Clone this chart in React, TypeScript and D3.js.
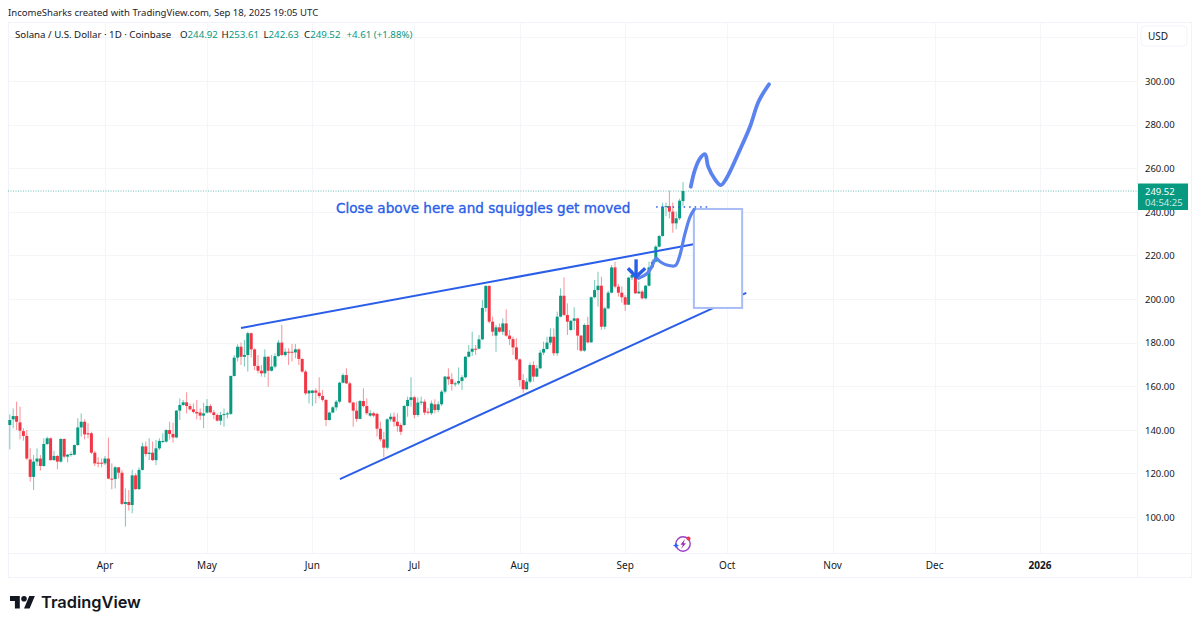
import React from "react";
import * as d3 from "d3";

type C = [number, number, number, number]; // open, high, low, close

const march: C[] = [
  [142.2,147.1,131.0,144.5],[144.8,149.8,140.7,146.3],[146.3,152.9,139.9,143.7],[143.4,150.6,135.6,139.6],
  [139.4,140.7,135.0,137.2],[137.2,139.9,126.1,126.8],[126.4,131.5,116.2,118.4],[118.4,128.4,112.4,125.4],
  [125.4,131.5,123.4,126.8],[126.8,128.4,121.3,123.4],[123.4,136.1,123.1,133.5],[133.5,136.9,133.0,136.1],
  [136.1,136.5,125.8,126.1],[126.1,130.4,125.8,128.0],[128.0,128.4,121.9,125.4],[125.4,136.1,124.9,135.8],
  [135.8,136.1,126.9,127.7],[127.7,128.9,125.1,128.6],[128.6,130.0,127.7,128.9],[128.6,133.2,128.3,133.0],
  [133.0,145.3,132.7,141.1],[141.1,147.5,136.9,143.7],[143.7,144.8,135.6,137.9],[138.4,143.0,136.1,137.9],
  [138.4,139.1,128.9,129.5],[129.5,130.4,123.4,124.6],[124.9,127.4,122.8,124.5],[124.9,126.9,122.8,124.5],
];
const april: C[] = [
  [124.6,128.0,123.8,126.8],[126.8,136.4,117.3,117.6],[117.6,124.6,112.7,117.4],[117.4,123.4,113.1,122.8],
  [122.8,122.9,117.7,120.3],[120.3,121.6,105.5,106.0],[106.0,113.1,95.6,106.9],[106.9,112.4,102.9,105.5],
  [105.5,121.6,101.7,119.1],[119.1,120.0,112.4,112.8],[112.8,122.8,112.4,121.6],[121.6,134.1,121.3,132.4],
  [132.4,134.6,127.7,128.9],[128.9,136.1,126.1,129.5],[129.5,134.6,125.7,126.1],[126.1,135.3,123.8,131.5],
  [131.5,136.1,130.7,134.9],[134.6,138.4,133.8,134.9],[134.6,140.2,134.1,139.9],[139.9,143.7,135.6,138.1],
  [138.1,143.3,134.1,136.5],[136.5,149.1,136.1,148.8],[148.8,154.4,144.5,151.4],[151.4,153.7,150.9,152.6],
  [152.6,157.2,147.5,150.9],[150.9,152.1,148.8,149.4],[149.4,152.1,147.5,148.2],[148.2,153.7,144.8,147.5],
  [147.9,149.8,144.5,146.5],[146.5,152.4,140.7,147.5],
];
const may: C[] = [
  [147.9,154.1,147.5,150.9],[150.9,151.8,147.5,148.0],[148.0,149.1,144.8,146.8],[146.8,147.5,143.7,144.2],
  [144.2,148.3,142.2,146.8],[146.8,149.8,141.4,147.2],[147.2,148.3,145.3,147.5],[147.3,164.9,146.8,164.7],
  [164.7,174.3,164.4,173.1],[173.1,179.2,171.3,178.1],[178.1,180.0,169.7,173.5],[173.5,181.2,169.0,174.3],
  [174.3,185.0,166.7,184.3],[184.3,184.6,173.2,176.9],[176.9,177.4,167.4,169.3],[169.3,174.3,165.9,167.1],
  [167.1,169.7,164.4,165.9],[165.9,176.9,164.1,173.5],[173.5,173.8,159.8,167.1],[167.1,174.3,166.7,169.0],
  [169.0,175.1,168.2,173.8],[173.8,181.2,173.5,180.0],[180.0,188.1,173.8,174.3],[174.3,177.4,173.5,175.8],
  [175.8,177.4,169.7,175.5],[175.8,179.4,171.3,175.4],[175.5,179.4,172.8,176.9],[176.9,177.4,169.7,172.5],
  [172.5,172.8,166.2,166.7],[166.7,167.4,156.0,156.7],[156.7,158.2,152.1,158.0],
];
const june: C[] = [
  [156.9,158.3,150.9,158.0],[158.0,159.0,152.1,157.0],[157.0,164.1,154.4,155.5],[155.5,158.3,152.9,153.7],
  [153.7,154.0,141.7,144.5],[144.5,148.3,144.2,147.9],[147.9,150.9,147.6,150.3],[150.3,153.7,148.8,152.9],
  [152.9,162.1,152.1,161.6],[161.6,165.9,161.3,165.1],[165.1,168.2,161.0,161.3],[161.3,162.1,152.1,152.5],
  [152.5,152.9,141.4,148.8],[148.8,152.9,143.7,145.0],[145.0,153.7,144.8,153.2],[153.2,159.0,150.3,150.9],
  [150.9,154.4,146.8,147.6],[146.5,149.1,146.0,147.6],[147.6,148.3,145.7,146.5],[147.3,147.9,136.9,140.5],
  [140.5,143.7,134.6,135.6],[135.6,139.1,127.4,131.8],[131.8,145.3,131.0,144.8],[144.8,147.6,143.7,146.0],
  [146.0,147.9,141.4,143.7],[143.7,147.6,139.1,141.7],[142.2,143.0,137.6,139.1],[142.2,151.4,141.7,150.9],
  [150.9,155.2,146.0,153.7],[153.7,164.1,150.6,154.9],
];
const july: C[] = [
  [154.9,155.5,145.3,146.8],[146.8,154.9,146.0,152.5],[152.6,155.2,151.4,152.9],[152.9,154.0,146.8,147.9],
  [148.3,150.0,147.0,147.9],[147.6,153.4,146.8,152.1],[151.7,154.0,147.5,149.1],[149.1,153.0,148.0,151.7],
  [151.7,158.3,151.0,157.5],[157.5,164.7,156.7,164.4],[164.4,168.2,160.6,163.2],[163.2,165.9,158.0,161.0],
  [161.0,162.1,159.8,161.3],[161.3,168.6,160.6,162.4],[162.4,165.1,158.3,164.1],[164.1,173.8,163.6,173.5],
  [173.5,178.9,173.2,175.8],[175.8,185.0,173.9,177.2],[177.2,178.9,174.3,176.9],[177.2,183.5,176.9,181.5],
  [181.5,199.5,181.2,195.9],[195.9,206.3,194.2,206.0],[206.0,206.3,188.8,189.6],[189.6,191.9,183.0,185.0],
  [183.2,188.1,175.8,187.0],[187.0,188.8,184.6,185.0],[185.0,191.1,183.5,188.8],[188.8,195.3,182.7,183.2],
  [183.2,185.8,178.9,181.6],[181.6,182.7,174.3,177.8],[177.8,182.0,171.7,172.3],
];
const august: C[] = [
  [172.3,172.8,159.8,162.8],[162.8,165.6,157.0,158.6],[158.6,163.6,158.3,162.1],[162.1,170.8,161.3,169.7],
  [169.7,171.3,162.1,164.4],[164.4,169.7,164.1,168.2],[168.2,176.6,167.9,175.4],[175.4,180.4,174.3,177.1],
  [177.1,182.7,176.6,180.0],[180.0,186.5,178.9,182.7],[182.7,186.5,173.9,175.1],[175.1,194.2,173.9,191.9],
  [191.9,204.9,191.6,201.5],[201.5,209.9,192.2,192.7],[192.7,198.0,183.5,189.6],[185.8,190.4,185.5,190.0],
  [190.0,196.2,185.8,191.1],[191.1,191.4,176.6,183.2],[183.2,183.5,175.8,176.3],[176.3,188.8,175.8,188.1],
  [188.1,191.9,179.7,180.1],[180.1,201.1,180.0,200.8],[200.8,208.7,200.3,204.1],[204.1,212.5,196.5,206.1],
  [206.1,210.2,185.8,187.3],[187.3,196.5,186.1,195.7],[195.7,203.8,195.3,202.9],[202.9,215.6,202.6,214.5],
  [214.5,217.1,204.9,205.7],[205.7,206.9,201.1,202.9],[202.9,205.7,198.3,200.8],
];
const september: C[] = [
  [200.8,201.8,194.6,197.4],[197.4,210.2,197.2,209.8],[209.8,213.3,208.7,211.0],[211.0,211.8,202.3,202.6],
  [202.6,208.0,202.3,203.4],[203.4,204.1,199.8,200.3],[200.3,206.4,199.8,206.1],[206.1,217.1,205.7,214.5],
  [214.5,218.2,214.1,217.1],[217.1,224.8,216.8,224.0],[224.0,229.4,223.7,228.9],[228.9,244.2,228.6,242.3],
  [242.3,244.2,238.0,242.6],[242.6,249.7,237.0,240.1],[240.1,244.3,230.4,234.7],[234.7,240.1,232.0,237.0],
  [237.0,246.0,236.2,245.1],[244.92,253.61,242.63,249.52],
];
const firstDay = "2025-03-04";

const priceTicks = [100, 120, 140, 160, 180, 200, 220, 240, 260, 280, 300];
const gridPrices = [...priceTicks, 320];
const timeTicks = [
  ["Apr", "2025-04-01"], ["May", "2025-05-01"], ["Jun", "2025-06-01"], ["Jul", "2025-07-01"], ["Aug", "2025-08-01"],
  ["Sep", "2025-09-01"], ["Oct", "2025-10-01"], ["Nov", "2025-11-01"], ["Dec", "2025-12-01"], ["2026", "2026-01-01"],
];
const lastClose = 249.52;

// drawings: [days after Apr 1, price]
const wedgeUpper: [number, number][] = [[40.0, 186.7], [173.5, 225.2]];
const wedgeLower: [number, number][] = [[69.1, 117.4], [188.6, 202.8]];
const dottedLevel: [number, number][] = [[162.1, 242.2], [177.3, 242.2]];
const boxCorners: [number, number][] = [[173.2, 241.3], [187.4, 195.9]];
const squiggleLow: [number, number][] = [
  [156.9, 209.5], [159.5, 211.8], [160.8, 214.8], [162.1, 218.7], [163.3, 217.1], [165.2, 215.6],
  [167.7, 215.3], [168.9, 219.1], [170.6, 230.1], [172.1, 237.8], [173.3, 241.1],
];
const squiggleHigh: [number, number][] = [
  [172.3, 251.5], [173.5, 259.2], [175.0, 264.5], [176.5, 266.4], [177.4, 260.7], [179.4, 254.9],
  [181.1, 252.2], [182.8, 255.4], [186.7, 268.3], [189.7, 279.0], [192.2, 290.5], [195.3, 298.5],
];
const arrowStem: [number, number][] = [[156.2, 218.2], [156.2, 210.2]];
const arrowHead: [number, number][] = [[153.8, 214.1], [156.2, 210.2], [158.9, 214.1]];

const GREEN = "#089981";
const RED = "#f23645";
const BLUE = "#2a5ee8";
const SQUIGGLE = "#5b83f0";
const UI_FONT = "'Noto Sans', sans-serif";

const L = 8, R = 1137, T = 22, B = 553, OUTER_R = 1191, OUTER_B = 577;

const candles = [...march, ...april, ...may, ...june, ...july, ...august, ...september];
const apr1 = new Date("2025-04-01T00:00:00Z");
const jan1 = new Date("2026-01-01T00:00:00Z");
const x = d3.scaleUtc().domain([apr1, jan1]).range([105, 1040]);
const y = d3.scaleLinear().domain([100, 300]).range([517, 81]);
const dateOf = (i: number) => d3.utcDay.offset(new Date(firstDay + "T00:00:00Z"), i);
const xd = (days: number) => x(new Date(apr1.getTime() + days * 864e5));
const pathOf = d3.line<[number, number]>().x((p) => xd(p[0])).y((p) => y(p[1]));
const smooth = d3.line<[number, number]>().x((p) => xd(p[0])).y((p) => y(p[1])).curve(d3.curveCatmullRom.alpha(0.5));
const fmt = d3.format(".2f");

export default function App() {
  const rectX0 = xd(boxCorners[0][0]);
  const rectX1 = xd(boxCorners[1][0]);
  const rectY0 = y(boxCorners[0][1]);
  const rectY1 = y(boxCorners[1][1]);
  return (
    <svg width={1200} height={627} viewBox="0 0 1200 627" style={{ position: "fixed", left: 0, top: 0, background: "#fff" }}>
      <rect width={1200} height={627} fill="#fff" />
      <text x={8} y={16} fontFamily={UI_FONT} fontSize={9.55} fill="#1e222d">IncomeSharks created with TradingView.com, Sep 18, 2025 19:05 UTC</text>

      {/* frame */}
      <g stroke="#f0f3fa" fill="none" strokeWidth={1}>
        <rect x={L + 0.5} y={T + 0.5} width={OUTER_R - L} height={OUTER_B - T} />
        <line x1={R + 0.5} x2={R + 0.5} y1={T} y2={OUTER_B} />
        <line x1={L} x2={OUTER_R} y1={B + 0.5} y2={B + 0.5} />
      </g>
      {/* grid */}
      <g stroke="#f3f5f9" strokeWidth={1}>
        {gridPrices.map((p) => (
          <line key={p} x1={L} x2={R} y1={Math.round(y(p)) + 0.5} y2={Math.round(y(p)) + 0.5} />
        ))}
        {timeTicks.map(([l, d]) => {
          const px = Math.round(x(new Date(d + "T00:00:00Z"))) + 0.5;
          return <line key={l} x1={px} x2={px} y1={T} y2={B} />;
        })}
      </g>

      {/* legend */}
      <text x={15} y={38} fontFamily={UI_FONT} fontSize={9.7} fill="#131722" xmlSpace="preserve">
        <tspan>Solana / U.S. Dollar · 1D · Coinbase</tspan>
        <tspan x={180}>O</tspan><tspan fill={GREEN}>244.92</tspan>
        <tspan x={221.5}>H</tspan><tspan fill={GREEN}>253.61</tspan>
        <tspan x={263.5}>L</tspan><tspan fill={GREEN}>242.63</tspan>
        <tspan x={304}>C</tspan><tspan fill={GREEN}>249.52</tspan>
        <tspan x={346.5} fill={GREEN}>+4.61 (+1.88%)</tspan>
      </text>

      {/* last price line */}
      <line x1={L} x2={R} y1={y(lastClose)} y2={y(lastClose)} stroke={GREEN} strokeOpacity={0.6} strokeWidth={1} strokeDasharray="1 1.5" />

      {/* candles */}
      <g>
        {candles.map((c, i) => {
          const [o, h, l, cl] = c;
          const col = cl >= o ? GREEN : RED;
          const px = x(dateOf(i));
          const top = y(Math.max(o, cl));
          const bot = y(Math.min(o, cl));
          return (
            <g key={i}>
              <line x1={px} x2={px} y1={y(h)} y2={y(l)} stroke={col} strokeWidth={1} strokeOpacity={0.55} />
              <rect x={px - 1.5} y={top} width={3} height={Math.max(bot - top, 1)} fill={col} />
            </g>
          );
        })}
      </g>

      {/* wedge */}
      <path d={pathOf(wedgeUpper)!} stroke={BLUE} strokeWidth={2} fill="none" />
      <path d={pathOf(wedgeLower)!} stroke={BLUE} strokeWidth={2} fill="none" />
      <path d={pathOf(dottedLevel)!} stroke={BLUE} strokeWidth={1.5} strokeDasharray="1.5 4" fill="none" />
      <rect x={rectX0} y={rectY0} width={rectX1 - rectX0} height={rectY1 - rectY0} fill="#fff" stroke="#a8bcf6" strokeWidth={2} />
      <path d={smooth(squiggleLow)!} stroke={SQUIGGLE} strokeWidth={3.2} strokeLinecap="round" fill="none" />
      <path d={smooth(squiggleHigh)!} stroke={SQUIGGLE} strokeWidth={3.8} strokeLinecap="round" fill="none" />
      <path d={pathOf(arrowStem)!} stroke={BLUE} strokeWidth={3.4} fill="none" />
      <path d={pathOf(arrowHead)!} stroke={BLUE} strokeWidth={3.4} fill="none" />
      <text x={336} y={213} fontFamily="'DejaVu Sans', sans-serif" fontSize={13.6} fontWeight={500} fill={BLUE} stroke={BLUE} strokeWidth={0.35}>Close above here and squiggles get moved</text>

      {/* price axis */}
      <rect x={1141} y={26} width={46} height={20} rx={3} fill="#fff" stroke="#f0f3fa" />
      <text x={1148} y={40} fontFamily={UI_FONT} fontSize={10} fill="#131722">USD</text>
      {priceTicks.map((p) => (
        <text key={p} x={1145} y={y(p) + 3.7} fontFamily={UI_FONT} fontSize={9.5} fill="#131722">{fmt(p)}</text>
      ))}
      <rect x={1138} y={183.5} width={50} height={26.5} fill={GREEN} />
      <text x={1145} y={195} fontFamily={UI_FONT} fontSize={9.5} fill="#fff">{fmt(lastClose)}</text>
      <text x={1145} y={206} fontFamily={UI_FONT} fontSize={9.5} fill="#c6ece4">04:54:25</text>

      {/* time axis */}
      {timeTicks.map(([l, d]) => (
        <text key={l} x={x(new Date(d + "T00:00:00Z"))} y={569} textAnchor="middle" fontFamily={UI_FONT} fontSize={10} fill="#131722" fontWeight={l === "2026" ? 700 : 400}>{l}</text>
      ))}

      {/* badge */}
      <g transform="translate(683,544)">
        <circle r={7.2} fill="#fff" stroke="#9c3fc6" strokeWidth={1.4} />
        <path d="M2 -5 L-2.5 0.8 L0 0.8 L-2 5 L3 -0.8 L0.5 -0.8 Z" fill="#9c27b0" />
        <circle cx={5.5} cy={-5.5} r={2} fill="#f23645" />
        <path d="M-7 -1.5 L-6 0.5 L-4 1.5 L-6 2.5 L-7 4.5 L-8 2.5 L-10 1.5 L-8 0.5 Z" fill="#2962ff" />
      </g>

      {/* logo */}
      <g transform="translate(10,593.2) scale(0.7)" fill="#131722">
        <path d="M14 22H7V11H0V4h14v18zM28 22h-8l7.5-18h8L28 22z" />
        <circle cx={20} cy={8} r={4} />
      </g>
      <text x={41} y={608} fontFamily="Inter, sans-serif" fontSize={16.4} fontWeight={600} fill="#131722">TradingView</text>
    </svg>
  );
}
